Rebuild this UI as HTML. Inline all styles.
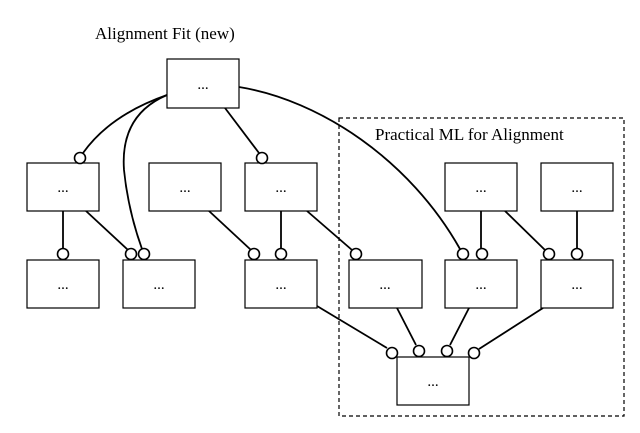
<!DOCTYPE html>
<html><head><meta charset="utf-8"><style>
html,body{margin:0;padding:0;background:#fff;}
svg{display:block;}
text{font-family:"Liberation Serif",serif;fill:#000;}
</style></head><body>
<svg width="640" height="433" viewBox="0 0 640 433" xmlns="http://www.w3.org/2000/svg">
<rect x="339" y="118" width="285" height="298" fill="none" stroke="#000" stroke-width="1.2" stroke-dasharray="4,3"/>
<text x="95" y="39" font-size="17">Alignment Fit (new)</text>
<text x="375" y="140" font-size="17">Practical ML for Alignment</text>
<g fill="none" stroke="#000" stroke-width="1.8">
<path d="M167,95 Q110,115 83,153"/>
<path d="M167,95 Q120,115 124,170 Q128,210 142,249"/>
<path d="M225,108 L259,153"/>
<path d="M239,87 C320,100 410,160 460,249"/>
<path d="M63,211 L63,249"/>
<path d="M86,211 L128,250"/>
<path d="M209,211 L251,250"/>
<path d="M281,211 L281,249"/>
<path d="M307,211 L352,250"/>
<path d="M481,211 L481,249"/>
<path d="M505,211 L545,250"/>
<path d="M577,211 L577,249"/>
<path d="M317,306 L387,348"/>
<path d="M397,308 L416,345"/>
<path d="M469,308 L450,345"/>
<path d="M543,308 L479,349"/>
</g>
<g fill="#fff" stroke="#000" stroke-width="1.2">
<rect x="167" y="59" width="72" height="49"/>
<rect x="27" y="163" width="72" height="48"/>
<rect x="149" y="163" width="72" height="48"/>
<rect x="245" y="163" width="72" height="48"/>
<rect x="445" y="163" width="72" height="48"/>
<rect x="541" y="163" width="72" height="48"/>
<rect x="27" y="260" width="72" height="48"/>
<rect x="123" y="260" width="72" height="48"/>
<rect x="245" y="260" width="72" height="48"/>
<rect x="349" y="260" width="73" height="48"/>
<rect x="445" y="260" width="72" height="48"/>
<rect x="541" y="260" width="72" height="48"/>
<rect x="397" y="357" width="72" height="48"/>
</g>
<g fill="#fff" stroke="#000" stroke-width="1.6">
<circle cx="80" cy="158" r="5.5"/>
<circle cx="262" cy="158" r="5.5"/>
<circle cx="63" cy="254" r="5.5"/>
<circle cx="131" cy="254" r="5.5"/>
<circle cx="144" cy="254" r="5.5"/>
<circle cx="254" cy="254" r="5.5"/>
<circle cx="281" cy="254" r="5.5"/>
<circle cx="356" cy="254" r="5.5"/>
<circle cx="463" cy="254" r="5.5"/>
<circle cx="482" cy="254" r="5.5"/>
<circle cx="549" cy="254" r="5.5"/>
<circle cx="577" cy="254" r="5.5"/>
<circle cx="392" cy="353" r="5.5"/>
<circle cx="419" cy="351" r="5.5"/>
<circle cx="447" cy="351" r="5.5"/>
<circle cx="474" cy="353" r="5.5"/>
</g>
<g font-size="15" text-anchor="middle">
<text x="203" y="89">...</text>
<text x="63" y="192">...</text>
<text x="185" y="192">...</text>
<text x="281" y="192">...</text>
<text x="481" y="192">...</text>
<text x="577" y="192">...</text>
<text x="63" y="289">...</text>
<text x="159" y="289">...</text>
<text x="281" y="289">...</text>
<text x="385" y="289">...</text>
<text x="481" y="289">...</text>
<text x="577" y="289">...</text>
<text x="433" y="386">...</text>
</g>
</svg>
</body></html>
